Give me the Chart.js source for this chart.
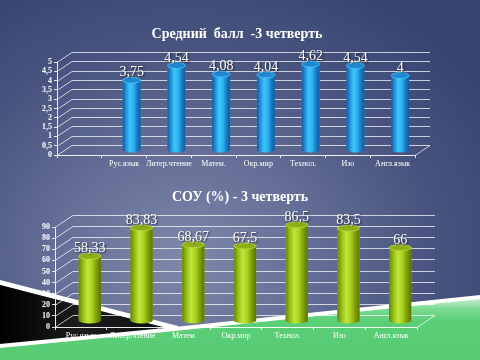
<!DOCTYPE html>
<html>
<head>
<meta charset="utf-8">
<script src="https://cdn.jsdelivr.net/npm/chart.js@4.4.1/dist/chart.umd.min.js"></script>
<style>
  html, body { margin: 0; padding: 0; }
  body {
    width: 480px; height: 360px; overflow: hidden; position: relative;
    background: radial-gradient(ellipse 75% 85% at 38% 72%, #7e88aa 0%, #656f97 35%, #48547f 70%, #374473 100%);
  }
  #deco { position: absolute; left: 0; top: 0; }
  canvas { position: absolute; left: 0; }
  #avgChart { top: 0; }
  #souChart { top: 180px; }
</style>
</head>
<body>
<svg id="deco" width="480" height="360">
  <defs>
    <linearGradient id="blk" x1="0" x2="1" y1="0" y2="0">
      <stop offset="0" stop-color="#000"/>
      <stop offset="0.45" stop-color="#1c1c1c"/>
      <stop offset="1" stop-color="#0d0d0d"/>
    </linearGradient>
    <linearGradient id="grn" x1="0" x2="0" y1="0" y2="1">
      <stop offset="0" stop-color="#c9f0d2"/>
      <stop offset="0.15" stop-color="#7fdb95"/>
      <stop offset="0.35" stop-color="#5bcf77"/>
      <stop offset="1" stop-color="#57cb73"/>
    </linearGradient>
  </defs>
  <polygon points="0,280 178,326 178,331 0,285" fill="#ffffff"/>
  <polygon points="0,285 178,331 0,344" fill="url(#blk)"/>
  <polygon points="0,344 165,328 480,295 480,360 0,360" fill="#ffffff"/>
  <polygon points="0,348 165,332 480,299 480,360 0,360" fill="url(#grn)"/>
</svg>
<canvas id="avgChart" width="480" height="180"></canvas>
<canvas id="souChart" width="480" height="180"></canvas>
<script>
/* ── data ─────────────────────────────────────────── */
const avgSubjects = ['', 'Рус.язык', 'Литер.чтение', 'Матем.', 'Окр.мир', 'Технол.', 'Изо', 'Англ.язык'];
const avgValues   = [null, 3.75, 4.54, 4.08, 4.04, 4.62, 4.54, 4];

const souSubjects = ['Рус.язык', 'Литер.чтение', 'Матем.', 'Окр.мир', 'Технол.', 'Изо', 'Англ.язык'];
const souValues   = [58.33, 83.83, 68.67, 67.5, 86.5, 83.5, 66];

const comma = v => String(v).replace('.', ',');

/* ── pseudo 3D: back walls + cylinders ────────────── */
const depth3d = {
  id: 'depth3d',
  beforeDatasetsDraw(chart, args, o) {
    const { ctx, chartArea: a, scales: { y } } = chart;
    ctx.save();
    ctx.strokeStyle = 'rgba(255,255,255,0.72)';
    ctx.lineWidth = 1;
    ctx.beginPath();
    y.ticks.forEach(t => {
      const py = Math.round(y.getPixelForValue(t.value)) + 0.5;
      ctx.moveTo(a.left, py);
      ctx.lineTo(a.left + o.dx, py + o.dy);
      ctx.lineTo(a.right + o.dx, py + o.dy);
    });
    const pb = Math.round(a.bottom) + 0.5;
    ctx.moveTo(a.right, pb);
    ctx.lineTo(a.right + o.dx, pb + o.dy);
    ctx.stroke();
    ctx.restore();
    // bars stand halfway into the depth
    ctx.save();
    ctx.translate(o.dx / 2, o.dy / 2);
  },
  afterDatasetsDraw(chart, args, o) {
    const ctx = chart.ctx;
    const vals = chart.data.datasets[0].data;
    const ry = 3;
    chart.getDatasetMeta(0).data.forEach((bar, i) => {
      if (vals[i] == null) return;
      const { x, y, base, width } = bar.getProps(['x', 'y', 'base', 'width'], true);
      const l = x - width / 2, r = x + width / 2;
      const g = ctx.createLinearGradient(l, 0, r, 0);
      o.side.forEach((c, k) => g.addColorStop(k / (o.side.length - 1), c));
      ctx.fillStyle = g;
      ctx.beginPath();
      ctx.moveTo(l, y);
      ctx.lineTo(l, base);
      ctx.ellipse(x, base, width / 2, ry, 0, Math.PI, 0, true);
      ctx.lineTo(r, y);
      ctx.closePath();
      ctx.fill();
      ctx.beginPath();
      ctx.ellipse(x, y, width / 2, ry, 0, 0, Math.PI * 2);
      ctx.fillStyle = o.cap;
      ctx.fill();
      ctx.strokeStyle = o.rim;
      ctx.lineWidth = 0.8;
      ctx.stroke();

      ctx.save();
      ctx.font = '14px "Liberation Serif"';
      ctx.fillStyle = '#ffffff';
      ctx.textAlign = 'center';
      ctx.textBaseline = 'alphabetic';
      ctx.shadowColor = 'rgba(0,0,0,0.7)';
      ctx.shadowBlur = 2;
      ctx.shadowOffsetX = 1;
      ctx.shadowOffsetY = 1;
      ctx.fillText(comma(vals[i]), x, y - ry - 1);
      ctx.restore();
    });
    ctx.restore();
  }
};

/* ── shared option builder ────────────────────────── */
function chartOptions(cfg) {
  return {
    responsive: false,
    animation: false,
    layout: { padding: { left: 0, right: cfg.padRight, top: 0, bottom: 0 } },
    plugins: {
      legend: { display: false },
      tooltip: { enabled: false },
      title: {
        display: true,
        text: cfg.title,
        color: '#ffffff',
        font: { family: 'Liberation Serif', size: 14, weight: 'bold' },
        padding: { top: cfg.titleTop, bottom: cfg.titleBottom }
      },
      depth3d: cfg.depth
    },
    scales: {
      x: {
        grid: { drawOnChartArea: false, drawTicks: true, tickLength: 3, color: 'rgba(255,255,255,0.85)', offset: true },
        border: { display: true, color: 'rgba(255,255,255,0.9)' },
        ticks: {
          color: '#ffffff', padding: 1, autoSkip: false, maxRotation: 0, minRotation: 0,
          font: { family: 'Liberation Serif', size: 8 }
        },
        afterFit: s => { s.height = cfg.xHeight; }
      },
      y: {
        min: 0, max: cfg.max,
        grid: { drawOnChartArea: false, drawTicks: true, tickLength: 3, color: 'rgba(255,255,255,0.85)' },
        border: { display: true, color: 'rgba(255,255,255,0.9)' },
        ticks: {
          stepSize: cfg.step, autoSkip: false, color: '#ffffff', padding: 2,
          font: { family: 'Liberation Serif', size: 8, weight: 'bold' },
          callback: v => comma(v)
        },
        afterFit: s => { s.width = cfg.yWidth; }
      },
      yR: {
        position: 'right',
        display: true,
        grid: { display: false },
        border: { display: false },
        ticks: { display: false },
        afterFit: s => { s.width = cfg.rightWidth; }
      }
    }
  };
}

/* ── 1. Средний балл ─────────────────────────────── */
new Chart(document.getElementById('avgChart'), {
  type: 'bar',
  data: {
    labels: avgSubjects,
    datasets: [{
      data: avgValues,
      backgroundColor: '#2aa8ec',
      barPercentage: 0.4,
      categoryPercentage: 1,
      clip: false
    }]
  },
  options: chartOptions({
    title: 'Средний  балл  -3 четверть',
    max: 5, step: 0.5,
    padRight: 6, yWidth: 57, rightWidth: 59,
    titleTop: 25.6, titleBottom: 19.6, xHeight: 25,
    depth: {
      dx: 15, dy: -10,
      side: ['#14589a', '#2593dc', '#3cc6fb', '#2fb2f0', '#1b7cc6', '#115795'],
      cap: '#1f88d2', rim: '#4cc6f6'
    }
  }),
  plugins: [depth3d]
});

/* ── 2. СОУ (%) ──────────────────────────────────── */
new Chart(document.getElementById('souChart'), {
  type: 'bar',
  data: {
    labels: souSubjects,
    datasets: [{
      data: souValues,
      backgroundColor: '#a6cf1e',
      barPercentage: 0.43,
      categoryPercentage: 1,
      clip: false
    }]
  },
  options: chartOptions({
    title: 'СОУ (%) - 3 четверть',
    max: 90, step: 10,
    padRight: 0, yWidth: 55, rightWidth: 63,
    titleTop: 8.6, titleBottom: 21.6, xHeight: 33,
    depth: {
      dx: 18, dy: -12,
      side: ['#66830a', '#97bf14', '#c0e63c', '#a8d120', '#7e9f08', '#587203'],
      cap: '#8fae16', rim: '#bddb44'
    }
  }),
  plugins: [depth3d]
});
</script>
</body>
</html>
